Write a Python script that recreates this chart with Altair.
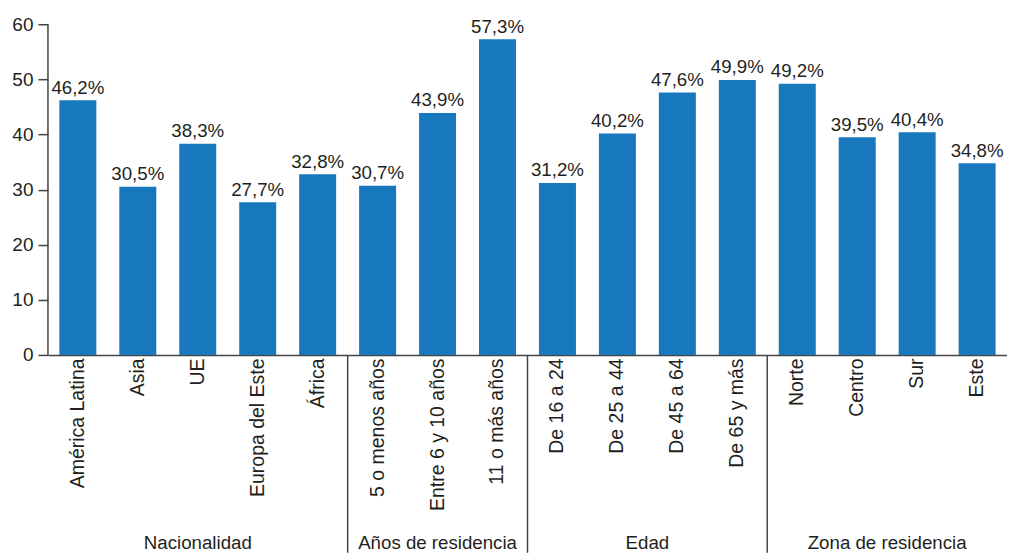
import altair as alt
import pandas as pd

categories = ["América Latina", "Asia", "UE", "Europa del Este", "África",
              "5 o menos años", "Entre 6 y 10 años", "11 o más años",
              "De 16 a 24", "De 25 a 44", "De 45 a 64", "De 65 y más",
              "Norte", "Centro", "Sur", "Este"]
values = [46.2, 30.5, 38.3, 27.7, 32.8,
          30.7, 43.9, 57.3,
          31.2, 40.2, 47.6, 49.9,
          49.2, 39.5, 40.4, 34.8]
groups = ["Nacionalidad", "Años de residencia", "Edad", "Zona de residencia"]
group_sizes = [5, 3, 4, 4]
y_ticks = [0, 10, 20, 30, 40, 50, 60]

FONT = "Liberation Sans"
TXT = "#231f20"
AX = "#444444"
BLUE = "#1878BE"

PLOT_H = 347
Y_TOP = 60 * PLOT_H / 331  # scale top so that 60 sits below the top edge

df = pd.DataFrame({
    "cat": categories,
    "val": values,
    "lab": [f"{v:.1f}".replace(".", ",") + "%" for v in values],
})

starts = []
s = 0
for n in group_sizes:
    starts.append(s)
    s += n
gdf = pd.DataFrame({"grp": groups, "start": starts,
                    "end": [a + b for a, b in zip(starts, group_sizes)]})
sep_df = pd.DataFrame({"pos": starts[1:]})
yline_df = pd.DataFrame({"y0": [y_ticks[0]], "y1": [y_ticks[-1]]})

xband = alt.X("cat:N", sort=categories, title=None,
              scale=alt.Scale(paddingInner=0.383, paddingOuter=0.19),
              axis=alt.Axis(labelAngle=-90, ticks=False, labelPadding=3,
                            labelFont=FONT, labelFontSize=19.5, labelColor=TXT,
                            domainColor=AX, domainWidth=1.5, labelLimit=300))
yscale = alt.Scale(domain=[0, Y_TOP], nice=False)
yq = alt.Y("val:Q", title=None, scale=yscale,
           axis=alt.Axis(values=y_ticks, grid=False, domain=False, tickSize=10,
                         tickColor=AX, tickWidth=1.5,
                         labelPadding=5, labelFont=FONT, labelFontSize=19,
                         labelColor=TXT))

bars = alt.Chart(df).mark_bar(color=BLUE).encode(x=xband, y=yq)
labels = alt.Chart(df).mark_text(baseline="alphabetic", dy=-6.5, font=FONT, fontSize=18.7,
                                 color=TXT).encode(x=xband, y=yq, text="lab:N")
yline = alt.Chart(yline_df).mark_rule(color=AX, strokeWidth=1.5).encode(
    x=alt.value(0), y=alt.Y("y0:Q", scale=yscale), y2="y1:Q")
main = alt.layer(bars, labels, yline)

xq = alt.X("pos:Q", scale=alt.Scale(domain=[0, 16], nice=False, zero=False), axis=None)
seps = alt.Chart(sep_df).mark_rule(color=AX, strokeWidth=1.5).encode(
    x=xq, y=alt.value(PLOT_H), y2=alt.value(545))

glabels = alt.Chart(gdf).transform_calculate(
    pos="(datum.start + datum.end) / 2"
).mark_text(baseline="middle", font=FONT, fontSize=18.7, color=TXT).encode(
    x=xq, y=alt.value(535), text="grp:N")

chart = alt.layer(main, seps, glabels).resolve_scale(x="independent").properties(
    width=960, height=PLOT_H,
    autosize=alt.AutoSizeParams(type="none"),
    padding={"left": 40, "top": 0, "right": 0, "bottom": 198},
).configure_view(stroke=None)

chart.save("out.html", embed_options={"renderer": "svg", "actions": False})
